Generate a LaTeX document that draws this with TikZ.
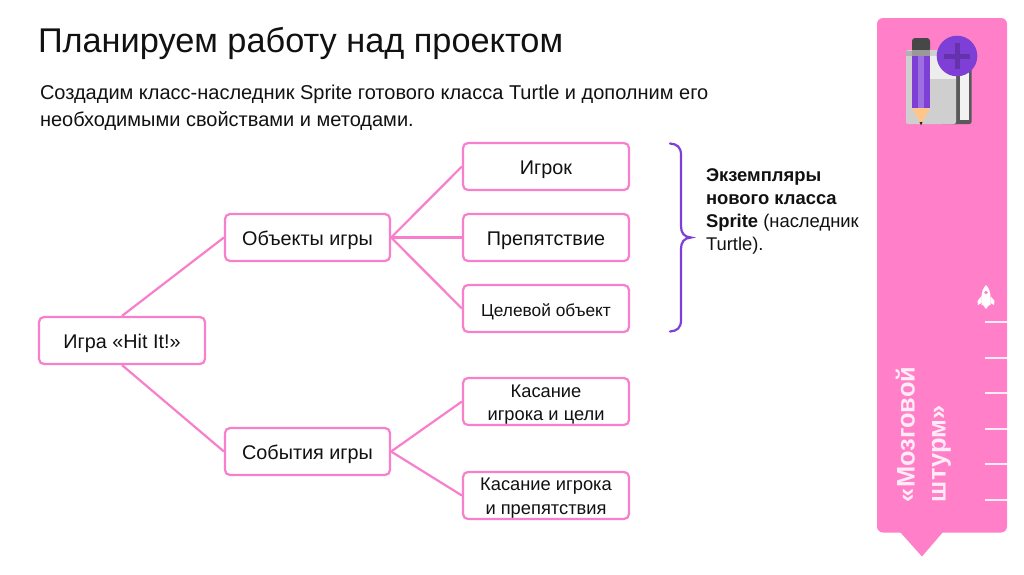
\documentclass[tikz,border=0pt]{standalone}
\usepackage{fontspec}
\setmainfont{Liberation Sans}
\definecolor{panelpink}{HTML}{FF80C8}
\definecolor{boxpink}{HTML}{F77FCB}
\definecolor{bracepurple}{HTML}{7E3FD6}
\definecolor{inktext}{HTML}{111111}
\tikzset{
  boxnode/.style={draw=boxpink,line width=2.2pt,rounded corners=5pt,fill=white,minimum height=47pt,align=center,text=inktext,inner sep=0pt,font=\fontsize{19.8}{23.5}\selectfont,execute at begin node={\rule{0pt}{20pt}}},
  widebox/.style={boxnode,minimum width=166pt},
  twoline/.style={font=\fontsize{18.3}{23.5}\selectfont,execute at begin node={},text depth=4pt},
  link/.style={draw=boxpink,line width=2.2pt},
  plain/.style={inner sep=0pt,outer sep=0pt,text=inktext},
  tickline/.style={draw=white!85!panelpink,line width=1.3pt}
}
\begin{document}
\begin{tikzpicture}[x=1pt,y=-1pt]
\useasboundingbox (0,0) rectangle (1024,574);
\fill[white] (0,0) rectangle (1024,574);
% panel
\fill[panelpink,rounded corners=6pt] (877,18) -- (1007,18) -- (1007,532.5) -- (877,532.5) -- cycle;
\fill[panelpink] (900,532) -- (943,532) -- (922,556.5) -- cycle;
% icon: back notebook
\fill[rounded corners=2pt,fill=black!65] (950,67) rectangle (971.5,124);
\fill[fill=white!90!gray] (960,70) rectangle (969,120);
% icon: front notebook
\fill[rounded corners=2pt,fill=black!65] (940,60) rectangle (959,124);
\fill[rounded corners=2pt,fill=black!19] (906,50) rectangle (956,124);
\fill[fill=black!7] (930,56) rectangle (956,79);
\fill[fill=black!30] (906,50.5) rectangle (930,56);
% icon: pencil
\fill[rounded corners=3pt,fill=black!72] (912,38) -- (930,38) -- (930,52) -- (912,52) -- cycle;
\fill[fill=black!40] (912,50) rectangle (930,56);
\fill[fill=bracepurple] (912,56) rectangle (930,108);
\fill[fill=bracepurple!75!white] (918,56) rectangle (924,108);
\fill[fill=orange!45!white] (912,108) -- (930,108) -- (921,125) -- cycle;
\fill[fill=black!85] (919.5,122) -- (922.5,122) -- (921,125.5) -- cycle;
% icon: plus
\fill[fill=bracepurple] (957,56) circle (20.3);
\fill[fill=bracepurple!80!black] (954.5,43) rectangle (959.5,69);
\fill[fill=bracepurple!80!black] (944,53.5) rectangle (970,58.5);
% rocket
\fill[white] (986,285) .. controls (983,288) and (981.5,292) .. (981.5,298) -- (981.5,305) -- (990.5,305) -- (990.5,298) .. controls (990.5,292) and (989,288) .. (986,285) -- cycle;
\fill[white] (981.5,296) -- (977.5,301) -- (978,305) -- (981.5,303) -- cycle;
\fill[white] (990.5,296) -- (994.5,301) -- (994,305) -- (990.5,303) -- cycle;
\fill[white] (983,305) -- (989,305) -- (986,309) -- cycle;
\fill[panelpink] (986,292.5) circle (1.9);
% ticks
\foreach \yy in {322,358,393,429,464,500} \draw[tickline] (985,\yy) -- (1007,\yy);
% panel text
\node[plain,text=white!85!panelpink,rotate=90,anchor=base west,align=left,font=\bfseries\fontsize{25.4}{31}\selectfont] (paneltext) at (945.5,502) {«Мозговой\\штурм»};
% headings
\node[plain,anchor=base west,font=\fontsize{34.3}{40}\selectfont] (title) at (38,52) {Планируем работу над проектом};
\node[plain,anchor=base west,align=left,font=\fontsize{20}{27}\selectfont] (intro) at (40,126) {Создадим класс-наследник Sprite готового класса Turtle и дополним его\\необходимыми свойствами и методами.};
% nodes
\node[widebox] (game) at (122,340.5) {Игра «Hit It!»};
\node[widebox,minimum width=165pt] (objects) at (307.5,237.5) {Объекты игры};
\node[widebox,minimum width=165pt] (events) at (307.5,451.5) {События игры};
\node[widebox] (player) at (546,166.5) {Игрок};
\node[widebox] (obstacle) at (546,237.5) {Препятствие};
\node[widebox,font=\fontsize{17.3}{21}\selectfont,execute at begin node={\rule{0pt}{18pt}}] (target) at (546,308.5) {Целевой объект};
\node[widebox,twoline,text height=42pt] (touchgoal) at (546,401.5) {Касание\\игрока и цели};
\node[widebox,twoline,text height=41pt] (touchobst) at (546,495.5) {Касание игрока\\и препятствия};
% links
\draw[link] (game.north) -- (objects.west);
\draw[link] (game.south) -- (events.west);
\draw[link] (objects.east) -- (player.west);
\draw[link] (objects.east) -- (obstacle.west);
\draw[link] (objects.east) -- (target.west);
\draw[link] (events.east) -- (touchgoal.west);
\draw[link] (events.east) -- (touchobst.west);
% brace
\draw[bracepurple,line width=2.2pt,line cap=round] (670,143.5) .. controls (677,144) and (681,147) .. (681,155) -- (681,226) .. controls (681,233) and (684,237) .. (691,237.5) .. controls (684,238) and (681,242) .. (681,249) -- (681,320) .. controls (681,328) and (677,331) .. (670,331.5);
% side text
\node[plain,anchor=base west,align=left,font=\fontsize{18.4}{22.7}\selectfont] (side) at (706,250) {\textbf{Экземпляры}\\\textbf{нового класса}\\\textbf{Sprite} (наследник\\Turtle).};
\end{tikzpicture}
\end{document}
